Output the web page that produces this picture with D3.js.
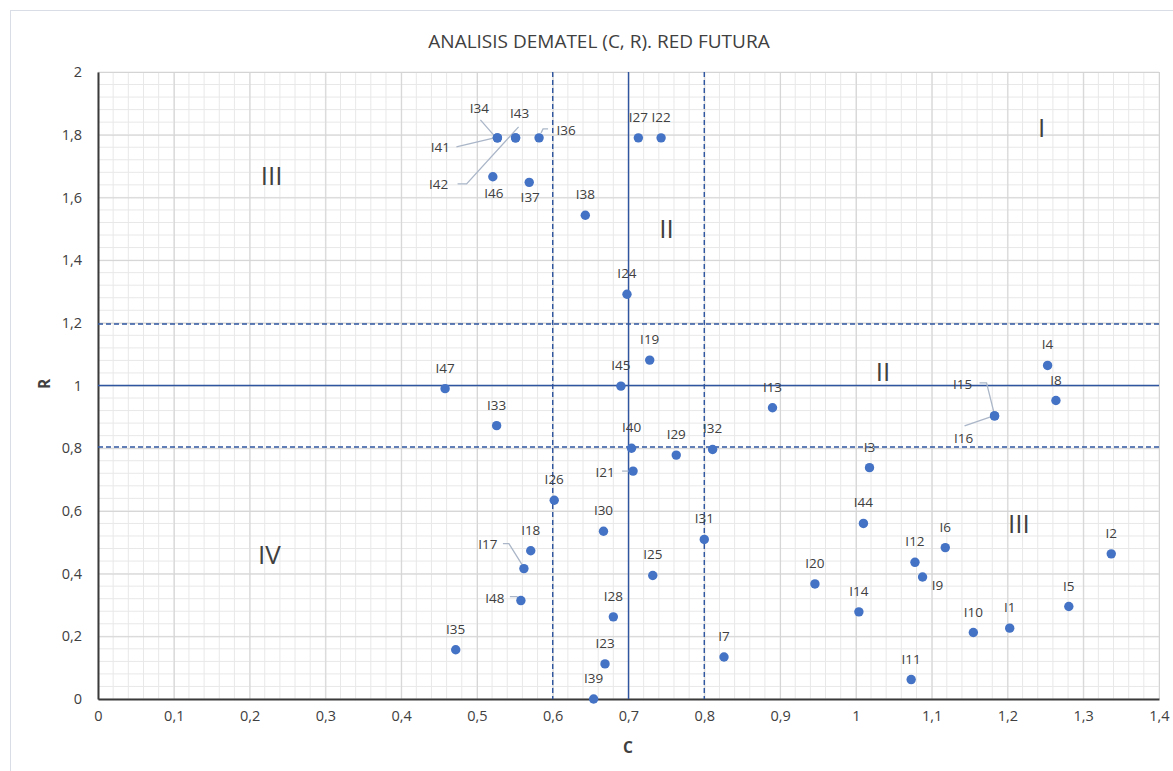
<!DOCTYPE html>
<meta charset="utf-8">
<head>
<script src="https://d3js.org/d3.v7.min.js"></script>
<style>
  body { margin: 0; background: #fff; }
  text { font-family: "Open Sans", "Noto Sans", sans-serif; fill: #404040; }
</style>
</head>
<body>
<div id="my_dataviz"></div>
<script>

// indicator names and their (C, R) values
var names = ["I1","I2","I3","I4","I5","I6","I7","I8","I9","I10","I11","I12",
             "I13","I14","I15","I16","I17","I18","I19","I20","I21","I22","I23","I24",
             "I25","I26","I27","I28","I29","I30","I31","I32","I33","I34","I35","I36",
             "I37","I38","I39","I40","I41","I42","I43","I44","I45","I46","I47","I48"];
var cValues = [1.203,1.337,1.018,1.253,1.281,1.118,0.826,1.264,1.088,1.155,1.073,1.078,
               0.890,1.004,1.183,1.183,0.562,0.571,0.728,0.946,0.706,0.743,0.669,0.698,
               0.732,0.602,0.713,0.680,0.763,0.667,0.800,0.811,0.526,0.527,0.472,0.582,
               0.569,0.643,0.654,0.704,0.527,0.551,0.551,1.010,0.690,0.521,0.458,0.558];
var rValues = [0.226,0.463,0.738,1.064,0.295,0.483,0.134,0.952,0.389,0.212,0.062,0.436,
               0.929,0.278,0.903,0.903,0.416,0.473,1.081,0.367,0.727,1.790,0.112,1.291,
               0.394,0.634,1.790,0.262,0.778,0.535,0.509,0.796,0.872,1.790,0.157,1.790,
               1.648,1.543,0.000,0.800,1.790,1.790,1.790,0.560,0.998,1.666,0.990,0.314];

// reference lines
var cLines = [0.6, 0.7, 0.8];
var cLineDashed = [true, false, true];
var rLines = [0.804, 1.0, 1.196];
var rLineDashed = [true, false, true];

// quadrant labels
var quadText = ["III","II","I","II","III","IV"];
var quadC = [0.229, 0.750, 1.245, 1.036, 1.215, 0.226];
var quadR = [1.673, 1.502, 1.823, 1.047, 0.562, 0.461];

var xTicks = [0,0.1,0.2,0.3,0.4,0.5,0.6,0.7,0.8,0.9,1,1.1,1.2,1.3,1.4];
var yTicks = [0,0.2,0.4,0.6,0.8,1,1.2,1.4,1.6,1.8,2];

// labels that were moved away from the default "above" spot (px offsets of text centre)
var labelMove = {
  I34: [-18,-30], I41: [-57,9], I43: [4,-25], I42: [-77,46], I36: [27,-8],
  I46: [1,16], I37: [1,15], I21: [-28,1], I17: [-36,-25], I48: [-26,-3],
  I15: [-32,-32], I16: [-31,22], I9: [15,8]
};
// leader lines for moved labels (px, relative to point)
var leaders = {
  I34: [[-17,-18],[-3,-2]],
  I41: [[-41,9],[-3,0]],
  I42: [[-58,46],[-49,46],[3,-11]],
  I36: [[2,-5],[4,-9],[9,-9]],
  I21: [[-11,0],[-3,0]],
  I17: [[-21,-25],[-15,-25],[0,-1]],
  I48: [[-11,-4],[-4,-4],[0,0]],
  I15: [[-15,-33],[-8,-33],[0,-1]],
  I16: [[-30,10],[-1,0]]
};

var data = names.map(function(n, i) { return {name: n, c: cValues[i], r: rValues[i]}; });

var W = 1173, H = 771;
var margin = {top: 72, right: 14, bottom: 72, left: 98},
    width = 1159 - margin.left,
    height = 699 - margin.top;

var root = d3.select("#my_dataviz")
  .append("svg")
    .attr("width", W)
    .attr("height", H);

// chart border
root.append("rect")
  .attr("x", 10.5).attr("y", 10.5)
  .attr("width", W + 20).attr("height", H + 20)
  .attr("fill", "none")
  .attr("stroke", "#d9dde6");

var svg = root.append("g")
  .attr("transform", "translate(" + margin.left + "," + margin.top + ")");

var x = d3.scaleLinear().domain([0, 1.4]).range([0, width]);
var y = d3.scaleLinear().domain([0, 2]).range([height, 0]);

// minor gridlines
var xMinor = d3.range(0, 71).map(function(i) { return i * 0.02; });
var yMinor = d3.range(0, 51).map(function(i) { return i * 0.04; });
svg.append("g").selectAll("line").data(xMinor).enter().append("line")
  .attr("x1", function(d) { return x(d); }).attr("x2", function(d) { return x(d); })
  .attr("y1", 0).attr("y2", height)
  .attr("stroke", "#e8e8e8").attr("stroke-width", 1);
svg.append("g").selectAll("line").data(yMinor).enter().append("line")
  .attr("y1", function(d) { return y(d); }).attr("y2", function(d) { return y(d); })
  .attr("x1", 0).attr("x2", width)
  .attr("stroke", "#e8e8e8").attr("stroke-width", 1);

// major gridlines
svg.append("g")
  .call(d3.axisBottom(x).tickValues(xTicks).tickSize(height).tickFormat(""))
  .call(function(g) { g.select(".domain").remove(); })
  .selectAll("line").attr("stroke", "#d4d4d4");
svg.append("g")
  .call(d3.axisLeft(y).tickValues(yTicks).tickSize(-width).tickFormat(""))
  .call(function(g) { g.select(".domain").remove(); })
  .selectAll("line").attr("stroke", "#d4d4d4");

// axes
var fmt = function(d) { return String(+d.toFixed(1)).replace(".", ","); };
var xAxis = svg.append("g")
  .attr("transform", "translate(0," + height + ")")
  .call(d3.axisBottom(x).tickValues(xTicks).tickSize(0).tickPadding(12).tickFormat(fmt));
xAxis.select(".domain").attr("stroke", "#3a3a3a").attr("stroke-width", 2);
xAxis.selectAll("text").style("font-size", "14.5px").attr("fill", "#404040");

var yAxis = svg.append("g")
  .call(d3.axisLeft(y).tickValues(yTicks).tickSize(0).tickPadding(16).tickFormat(fmt));
yAxis.select(".domain").attr("stroke", "#3a3a3a").attr("stroke-width", 2);
yAxis.selectAll("text").style("font-size", "14.5px").attr("fill", "#404040");

// reference lines
svg.append("g").selectAll("line").data(cLines).enter().append("line")
  .attr("x1", function(d) { return x(d); }).attr("x2", function(d) { return x(d); })
  .attr("y1", 0).attr("y2", height)
  .attr("stroke", "#2f55a0").attr("stroke-width", 1.4)
  .attr("stroke-dasharray", function(d, i) { return cLineDashed[i] ? "5,3" : null; });
svg.append("g").selectAll("line").data(rLines).enter().append("line")
  .attr("y1", function(d) { return y(d); }).attr("y2", function(d) { return y(d); })
  .attr("x1", 0).attr("x2", width)
  .attr("stroke", "#2f55a0").attr("stroke-width", 1.4)
  .attr("stroke-dasharray", function(d, i) { return rLineDashed[i] ? "5,3" : null; });

// quadrant labels
svg.append("g").selectAll("text").data(quadText).enter().append("text")
  .attr("x", function(d, i) { return x(quadC[i]); })
  .attr("y", function(d, i) { return y(quadR[i]); })
  .attr("text-anchor", "middle")
  .attr("dominant-baseline", "central")
  .style("font-size", "26px")
  .attr("fill", "#1a1a1a")
  .text(function(d) { return d; });

// leader lines
var line = d3.line();
svg.append("g").selectAll("path").data(data.filter(function(d) { return leaders[d.name]; }))
  .enter().append("path")
  .attr("d", function(d) {
    return line(leaders[d.name].map(function(p) { return [x(d.c) + p[0], y(d.r) + p[1]]; }));
  })
  .attr("fill", "none")
  .attr("stroke", "#aab6c8")
  .attr("stroke-width", 1.3);

// dots
svg.append("g").selectAll("circle").data(data).enter().append("circle")
  .attr("cx", function(d) { return x(d.c); })
  .attr("cy", function(d) { return y(d.r); })
  .attr("r", 4.7)
  .style("fill", "#4472c4");

// point labels
svg.append("g").selectAll("text").data(data).enter().append("text")
  .attr("x", function(d) { var m = labelMove[d.name]; return x(d.c) + (m ? m[0] : 0); })
  .attr("y", function(d) { var m = labelMove[d.name]; return y(d.r) + (m ? m[1] : -21); })
  .attr("text-anchor", "middle")
  .attr("dominant-baseline", "central")
  .style("font-size", "13.5px")
  .attr("fill", "#404040")
  .text(function(d) { return d.name; });

// title
root.append("text")
  .attr("x", 599).attr("y", 41)
  .attr("text-anchor", "middle")
  .attr("dominant-baseline", "central")
  .style("font-size", "19px")
  .attr("fill", "#262626")
  .text("ANALISIS DEMATEL (C, R). RED FUTURA");

// axis titles
root.append("text")
  .attr("x", 628).attr("y", 747)
  .attr("text-anchor", "middle")
  .attr("dominant-baseline", "central")
  .style("font-size", "15.5px")
  .style("font-weight", "bold")
  .attr("fill", "#262626")
  .text("C");
root.append("text")
  .attr("transform", "translate(44,384) rotate(-90)")
  .attr("text-anchor", "middle")
  .attr("dominant-baseline", "central")
  .style("font-size", "15.5px")
  .style("font-weight", "bold")
  .attr("fill", "#262626")
  .text("R");

</script>
</body>
</html>
